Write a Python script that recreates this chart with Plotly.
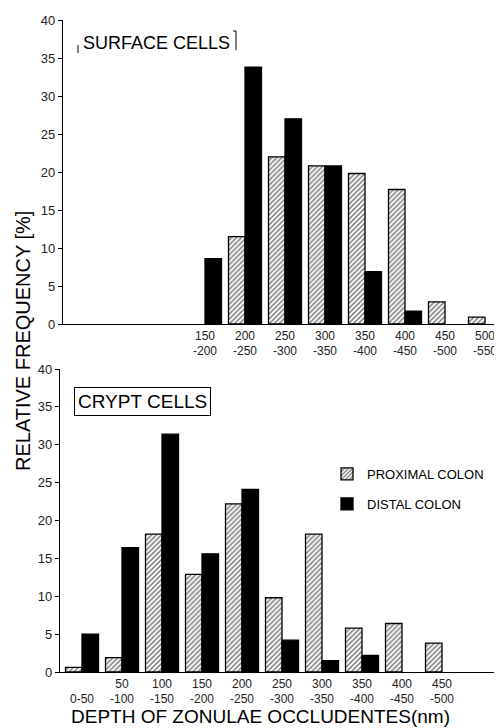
import plotly.graph_objects as go

bins = ["0-50", "50-100", "100-150", "150-200", "200-250", "250-300",
        "300-350", "350-400", "400-450", "450-500", "500-550"]
surface_tick_text = ["", "", "", "150<br>-200", "200<br>-250", "250<br>-300",
                     "300<br>-350", "350<br>-400", "400<br>-450", "450<br>-500", "500<br>-550"]
crypt_tick_text = ["<br>0-50", "50<br>-100", "100<br>-150", "150<br>-200", "200<br>-250",
                   "250<br>-300", "300<br>-350", "350<br>-400", "400<br>-450", "450<br>-500", ""]

surface_proximal = [None, None, None, None, 11.5, 22.0, 20.8, 19.8, 17.7, 2.9, 0.9]
surface_distal = [None, None, None, 8.6, 33.8, 27.0, 20.8, 6.9, 1.7, None, None]
crypt_proximal = [0.6, 1.9, 18.2, 12.9, 22.2, 9.8, 18.2, 5.8, 6.4, 3.8, None]
crypt_distal = [5.0, 16.4, 31.4, 15.6, 24.1, 4.2, 1.5, 2.2, None, None, None]

y_ticks = [0, 5, 10, 15, 20, 25, 30, 35, 40]

xpos = list(range(len(bins)))
FONT = "Liberation Sans"

# page body has an 8px margin, so the figure is drawn 8px smaller and shifted
W, H = 494, 720


def px(x):  # reference pixel x -> paper x
    return (x - 60) / 442


def py(y):  # reference pixel y -> paper y
    return (672 - y) / 652


hatch = dict(color="white", line=dict(color="black", width=1.3),
             pattern=dict(shape="/", fgcolor="black", bgcolor="white", size=3.5, solidity=0.45))
solid = dict(color="black", line=dict(color="black", width=1.3))

fig = go.Figure()
fig.add_trace(go.Bar(x=xpos, y=surface_proximal, marker=hatch, name="PROXIMAL COLON",
                     showlegend=False, xaxis="x", yaxis="y"))
fig.add_trace(go.Bar(x=xpos, y=surface_distal, marker=solid, name="DISTAL COLON",
                     showlegend=False, xaxis="x", yaxis="y"))
fig.add_trace(go.Bar(x=xpos, y=crypt_proximal, marker=hatch, name="PROXIMAL COLON",
                     legendgroup="p", xaxis="x2", yaxis="y2"))
fig.add_trace(go.Bar(x=xpos, y=crypt_distal, marker=solid, name="DISTAL COLON",
                     legendgroup="d", xaxis="x2", yaxis="y2"))

axis_common = dict(showline=True, linecolor="black", linewidth=1.3, showgrid=False,
                   zeroline=False, automargin=False)
xtick_font = dict(family=FONT, size=12, color="#222")
ytick_font = dict(family=FONT, size=13, color="#222")

fig.update_layout(
    width=W, height=H,
    margin=dict(l=52, r=0, t=12, b=56, autoexpand=False),
    paper_bgcolor="white", plot_bgcolor="white",
    barmode="group", bargap=0.175, bargroupgap=0.0,
    font=dict(family=FONT, color="black"),
    xaxis=dict(axis_common, domain=[3 / 442, 1], range=[-0.55, 10.425], tickvals=xpos,
               ticktext=surface_tick_text, ticks="", anchor="y", tickfont=xtick_font,
               ticklabeloverflow="allow"),
    yaxis=dict(axis_common, domain=[348 / 652, 1], range=[0, 40], tickvals=y_ticks,
               ticks="outside", ticklen=4, tickcolor="black", anchor="x", tickfont=ytick_font),
    xaxis2=dict(axis_common, domain=[0, 1], range=[-0.55, 10.5], tickvals=xpos,
                ticktext=crypt_tick_text, ticks="", anchor="y2", tickfont=xtick_font,
                ticklabeloverflow="allow"),
    yaxis2=dict(axis_common, domain=[0, 303 / 652], range=[0, 40], tickvals=y_ticks,
                ticks="outside", ticklen=4, tickcolor="black", anchor="x2", tickfont=ytick_font),
    legend=dict(x=px(327), y=py(459), xanchor="left", yanchor="top",
                font=dict(family=FONT, size=13), bgcolor="rgba(0,0,0,0)",
                tracegroupgap=10, itemwidth=30),
)

fig.add_annotation(text="SURFACE CELLS", xref="paper", yref="paper",
                   x=px(156), y=py(43), showarrow=False,
                   font=dict(family=FONT, size=18), xanchor="center", yanchor="middle")
# bracket marks around the surface title
line_style = dict(color="black", width=1)
fig.add_shape(type="line", xref="paper", yref="paper",
              x0=px(78), x1=px(78), y0=py(45), y1=py(53), line=line_style)
fig.add_shape(type="line", xref="paper", yref="paper",
              x0=px(236), x1=px(236), y0=py(31), y1=py(50), line=line_style)
fig.add_shape(type="line", xref="paper", yref="paper",
              x0=px(233), x1=px(236), y0=py(31), y1=py(31), line=line_style)

fig.add_annotation(text="CRYPT CELLS", xref="paper", yref="paper",
                   x=px(142), y=py(401), showarrow=False,
                   font=dict(family=FONT, size=19), xanchor="center", yanchor="middle",
                   bordercolor="black", borderwidth=1, borderpad=3)

fig.add_annotation(text="RELATIVE FREQUENCY [%]", xref="paper", yref="paper",
                   x=px(23), y=py(341), showarrow=False, textangle=-90,
                   font=dict(family=FONT, size=20), xanchor="center", yanchor="middle")

fig.add_annotation(text="DEPTH OF ZONULAE OCCLUDENTES(nm)", xref="paper", yref="paper",
                   x=px(260), y=py(716), showarrow=False,
                   font=dict(family=FONT, size=19), xanchor="center", yanchor="middle")

fig.write_html("out.html")
